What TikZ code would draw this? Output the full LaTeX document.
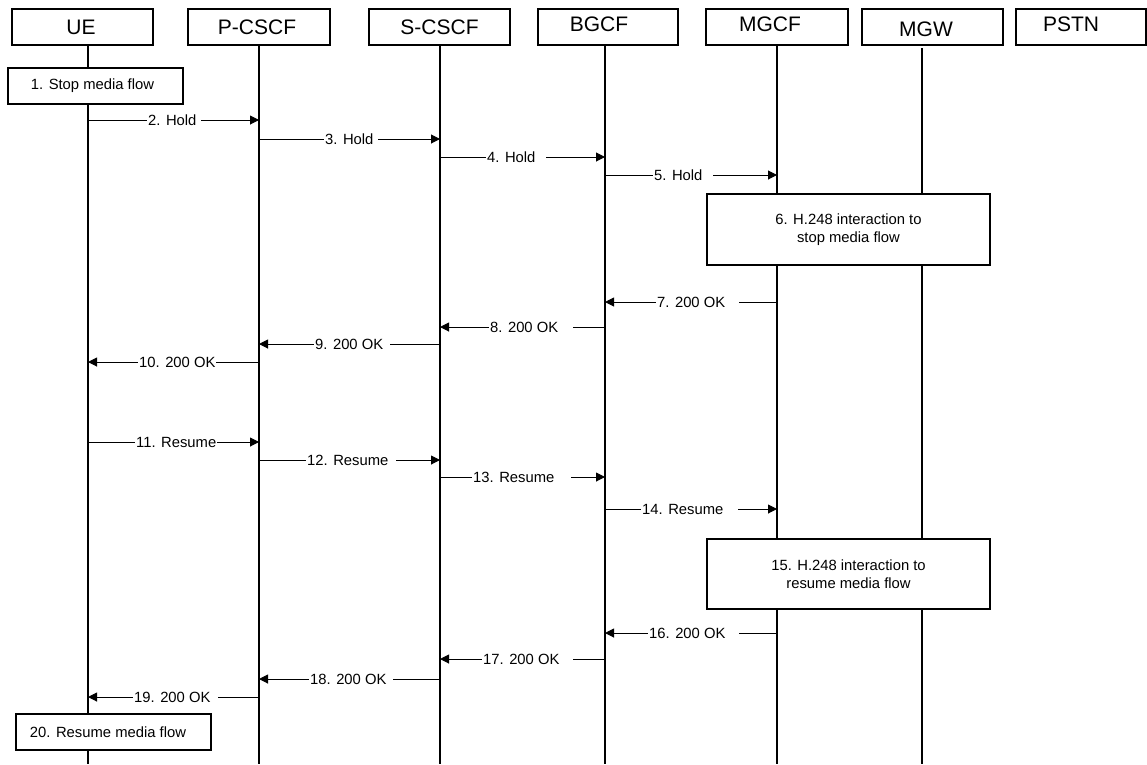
\documentclass[tikz,border=0pt]{standalone}
\usepackage{fontspec}
\setmainfont{Liberation Sans}
\usetikzlibrary{arrows.meta}
\tikzset{
  hdr/.style={draw, line width=1.1pt, minimum width=#1, minimum height=36pt, inner sep=0pt},
  hdrtxt/.style={font=\fontsize{21}{25}\selectfont},
  life/.style={line width=1.1pt},
  actbox/.style={draw, fill=white, line width=1.1pt, inner sep=0pt, align=center,
                 font=\fontsize{14.8}{18}\selectfont},
  msg/.style={line width=1pt, -{Triangle[length=9pt,width=9pt]}},
  lbl/.style={fill=white, inner xsep=1pt, inner ysep=1pt, anchor=base west,
              font=\fontsize{14.8}{17.8}\selectfont}
}
\begin{document}
\begin{tikzpicture}[x=1pt,y=-1pt]
\useasboundingbox (0,0) rectangle (1147,764);

% header boxes
\node[hdr=141pt, label={[hdrtxt,xshift=-1.5pt]center:UE}] (ue) at (82.5,27) {};
\node[hdr=142pt, label={[hdrtxt,xshift=-2pt]center:P-CSCF}] (pc) at (259,27) {};
\node[hdr=141pt, label={[hdrtxt]center:S-CSCF}] (sc) at (439.5,27) {};
\node[hdr=140pt, label={[hdrtxt,xshift=-9pt,yshift=3pt]center:BGCF}] (bg) at (608,27) {};
\node[hdr=142pt, label={[hdrtxt,xshift=-7pt,yshift=3pt]center:MGCF}] (mg) at (777,27) {};
\node[hdr=141pt, label={[hdrtxt,xshift=-6.5pt,yshift=-2pt]center:MGW}] (mw) at (932.5,27) {};
\node[hdr=130pt, label={[hdrtxt,xshift=-10pt,yshift=3pt]center:PSTN}] (ps) at (1081,27) {};

% lifelines
\coordinate (ueT) at (88,45);   \coordinate (ueB) at (88,764);
\coordinate (pcT) at (259,45);  \coordinate (pcB) at (259,764);
\coordinate (scT) at (440,45);  \coordinate (scB) at (440,764);
\coordinate (bgT) at (605,45);  \coordinate (bgB) at (605,764);
\coordinate (mgT) at (777,45);  \coordinate (mgB) at (777,764);
\coordinate (mwT) at (922,48);  \coordinate (mwB) at (922,764);
\draw[life] (ueT) -- (ueB);
\draw[life] (pcT) -- (pcB);
\draw[life] (scT) -- (scB);
\draw[life] (bgT) -- (bgB);
\draw[life] (mgT) -- (mgB);
\draw[life] (mwT) -- (mwB);

% action boxes
\node[actbox, minimum width=175pt, minimum height=36pt] (b1) at (95.5,86) {1. Stop media flow\hspace*{6pt}};
\node[actbox, minimum width=283pt, minimum height=71pt] (b6) at (848.5,229.5) {6. H.248 interaction to\\stop media flow};
\node[actbox, minimum width=283pt, minimum height=70pt] (b15) at (848.5,574) {15. H.248 interaction to\\resume media flow};
\node[actbox, minimum width=195pt, minimum height=36pt] (b20) at (113.5,732) {20. Resume media flow\hspace*{11pt}};

% messages
\draw[msg] (ueT |- 0,120) -- (pcT |- 0,120);
\node[lbl] (l2) at (147,125) {2. Hold\hspace*{4pt}};
\draw[msg] (pcT |- 0,139) -- (scT |- 0,139);
\node[lbl] (l3) at (324,144) {3. Hold\hspace*{4pt}};
\draw[msg] (scT |- 0,157) -- (bgT |- 0,157);
\node[lbl] (l4) at (486,162) {4. Hold\hspace*{10pt}};
\draw[msg] (bgT |- 0,175) -- (mgT |- 0,175);
\node[lbl] (l5) at (653,180) {5. Hold\hspace*{10pt}};
\draw[msg] (mgT |- 0,302) -- (bgT |- 0,302);
\node[lbl] (l7) at (656,307) {7. 200 OK\hspace*{13pt}};
\draw[msg] (bgT |- 0,327) -- (scT |- 0,327);
\node[lbl] (l8) at (489,332) {8. 200 OK\hspace*{14pt}};
\draw[msg] (scT |- 0,344) -- (pcT |- 0,344);
\node[lbl] (l9) at (314,349) {9. 200 OK\hspace*{6pt}};
\draw[msg] (pcT |- 0,362) -- (ueT |- 0,362);
\node[lbl] (l10) at (138,367) {10. 200 OK};
\draw[msg] (ueT |- 0,442) -- (pcT |- 0,442);
\node[lbl] (l11) at (135,447) {11. Resume};
\draw[msg] (pcT |- 0,460) -- (scT |- 0,460);
\node[lbl] (l12) at (306,465) {12. Resume\hspace*{7pt}};
\draw[msg] (scT |- 0,477) -- (bgT |- 0,477);
\node[lbl] (l13) at (472,482) {13. Resume\hspace*{16pt}};
\draw[msg] (bgT |- 0,509) -- (mgT |- 0,509);
\node[lbl] (l14) at (641,514) {14. Resume\hspace*{14pt}};
\draw[msg] (mgT |- 0,633) -- (bgT |- 0,633);
\node[lbl] (l16) at (648,638) {16. 200 OK\hspace*{13pt}};
\draw[msg] (bgT |- 0,659) -- (scT |- 0,659);
\node[lbl] (l17) at (482,664) {17. 200 OK\hspace*{13pt}};
\draw[msg] (scT |- 0,679) -- (pcT |- 0,679);
\node[lbl] (l18) at (309,684) {18. 200 OK\hspace*{6pt}};
\draw[msg] (pcT |- 0,697) -- (ueT |- 0,697);
\node[lbl] (l19) at (133,702) {19. 200 OK\hspace*{7pt}};
\end{tikzpicture}
\end{document}
